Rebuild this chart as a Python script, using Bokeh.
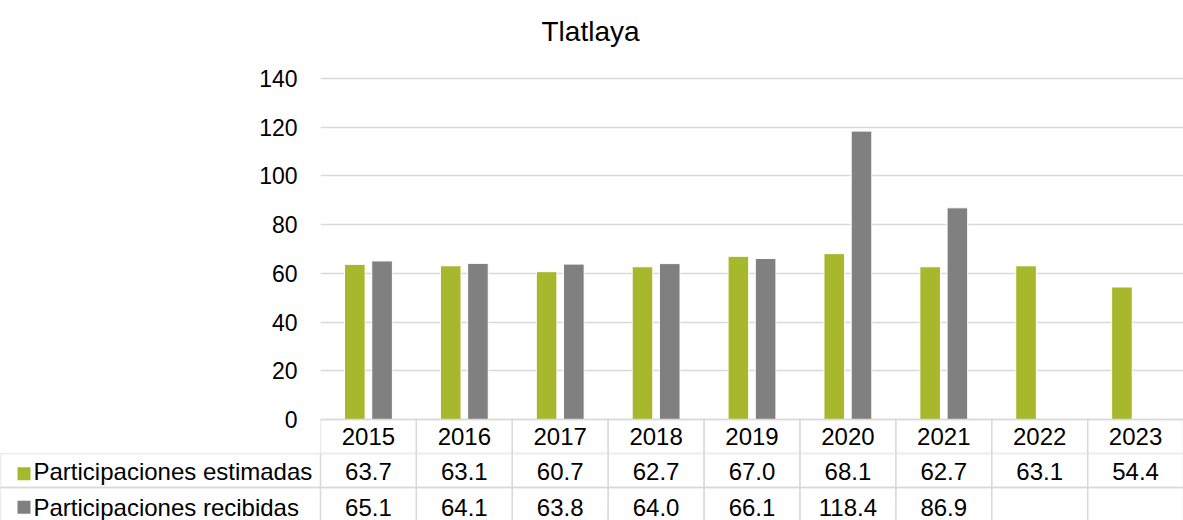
import numpy as np
from bokeh.plotting import figure
from bokeh.models import FactorRange, Range1d, ColumnDataSource, FixedTicker
from bokeh.transform import dodge
from bokeh.layouts import column
from bokeh.embed import file_html
from bokeh.resources import INLINE
from bokeh.core.properties import value

# ---------------- data ----------------
title_text = "Tlatlaya"
years = ["2015", "2016", "2017", "2018", "2019", "2020", "2021", "2022", "2023"]
series_names = ["Participaciones estimadas", "Participaciones recibidas"]
estimadas = [63.7, 63.1, 60.7, 62.7, 67.0, 68.1, 62.7, 63.1, 54.4]
recibidas = [65.1, 64.1, 63.8, 64.0, 66.1, 118.4, 86.9, np.nan, np.nan]
y_ticks = [0, 20, 40, 60, 80, 100, 120, 140]

# ---------------- style ----------------
GREEN = "#A8B82C"
GRAY = "#808080"
GRID = "#D9D9D9"
FONT = "Liberation Sans"
TXT = "24px"

W = 1183
LEFT = 320
N = len(years)
CAT_PX = (W - LEFT) / N
TOP_H = 453
FRAME_TOP = 78          # pixel row of the top gridline (140)
ZERO_Y = 419            # pixel row of the zero line
Y_MAX = y_ticks[-1]
PX_PER_UNIT = (ZERO_Y - FRAME_TOP) / Y_MAX
y_top = Y_MAX + FRAME_TOP / PX_PER_UNIT
y_min = -(TOP_H - ZERO_Y) / PX_PER_UNIT

fmt = lambda v: "" if np.isnan(v) else f"{v:.1f}"
est = np.array(estimadas, dtype=float)
rec = np.array(recibidas, dtype=float)
src = ColumnDataSource(dict(years=years, est=est, rec=rec,
                            est_lbl=[fmt(v) for v in est],
                            rec_lbl=[fmt(v) for v in rec]))

# ---------------- chart ----------------
p = figure(width=W, height=TOP_H, x_range=FactorRange(factors=years),
           y_range=Range1d(y_min, y_top), output_backend="svg",
           toolbar_location=None, x_axis_location=None,
           min_border_left=LEFT, min_border_right=0,
           min_border_top=0, min_border_bottom=0)
p.frame_align = False
p.outline_line_color = None
p.background_fill_color = "white"
p.xgrid.visible = False
p.ygrid.ticker = FixedTicker(ticks=y_ticks)
p.ygrid.grid_line_color = GRID
p.ygrid.grid_line_width = 1.3
p.yaxis.ticker = FixedTicker(ticks=y_ticks)
p.yaxis.axis_line_color = None
p.yaxis.major_tick_line_color = None
p.yaxis.minor_tick_line_color = None
p.yaxis.major_tick_out = 0
p.yaxis.major_tick_in = 0
p.yaxis.major_label_standoff = 23
p.yaxis.major_label_text_font = FONT
p.yaxis.major_label_text_font_size = "23px"
p.yaxis.major_label_text_color = "black"

# chart title, centred over the whole chart area
title_x = (590 - LEFT) / CAT_PX
title_y = Y_MAX + (FRAME_TOP - 31) / PX_PER_UNIT
p.text(x=[title_x], y=[title_y], text=[title_text], text_align="center",
       text_baseline="middle", text_font=value(FONT),
       text_font_size="28px", text_color="black")

p.vbar(x=dodge("years", -0.142, range=p.x_range), top="est", width=0.215,
       source=src, fill_color=GREEN, line_color="white", line_width=1)
p.vbar(x=dodge("years", 0.142, range=p.x_range), top="rec", width=0.215,
       source=src, fill_color=GRAY, line_color="white", line_width=1)

# year row of the data table (inside the chart frame, below zero)
p.rect(x="years", y=y_min / 2, width=1, height=-y_min, source=src,
       fill_color=None, line_color=GRID, line_width=1.3)
p.text(x="years", y=-(436.3 - ZERO_Y) / PX_PER_UNIT, text="years", source=src,
       text_align="center", text_baseline="middle", text_font=value(FONT),
       text_font_size=TXT, text_color="black")

# ---------------- data table rows ----------------
B_H = 520 - TOP_H
ROW2_PX = 34
x_left = -LEFT / CAT_PX
q = figure(width=W, height=B_H, x_range=Range1d(x_left, N),
           y_range=Range1d(-B_H / ROW2_PX, 0), output_backend="svg",
           toolbar_location=None, x_axis_location=None, y_axis_location=None,
           min_border_left=0, min_border_right=0, min_border_top=0,
           min_border_bottom=0)
q.frame_align = False
q.outline_line_color = None
q.grid.visible = False

xs = np.arange(N) + 0.5
row_y = [-0.5, -1.5]
mid_y = [-(470.8 - TOP_H) / ROW2_PX, -(507.0 - TOP_H) / ROW2_PX]
key_y = [-(473.3 - TOP_H) / ROW2_PX, -(506.7 - TOP_H) / ROW2_PX]

for r in range(2):
    q.rect(x=xs, y=row_y[r], width=1, height=1, fill_color=None,
           line_color=GRID, line_width=1.3)
    q.rect(x=x_left / 2, y=row_y[r], width=-x_left, height=1, fill_color=None,
           line_color=GRID, line_width=1.3)

q.text(x=xs, y=mid_y[0], text=src.data["est_lbl"], text_align="center",
       text_baseline="middle", text_font=value(FONT), text_font_size=TXT,
       text_color="black")
q.text(x=xs, y=mid_y[1], text=src.data["rec_lbl"], text_align="center",
       text_baseline="middle", text_font=value(FONT), text_font_size=TXT,
       text_color="black")

key_x = x_left + 23.5 / CAT_PX
lbl_x = x_left + 33 / CAT_PX
q.scatter(x=[key_x, key_x], y=key_y, marker="square", size=13,
          fill_color=[GREEN, GRAY], line_color=None)
q.text(x=[lbl_x, lbl_x], y=mid_y, text=series_names, text_align="left",
       text_baseline="middle", text_font=value(FONT), text_font_size=TXT,
       text_color="black")

layout = column(p, q, spacing=0)
open("out.html", "w").write(file_html(layout, INLINE))
